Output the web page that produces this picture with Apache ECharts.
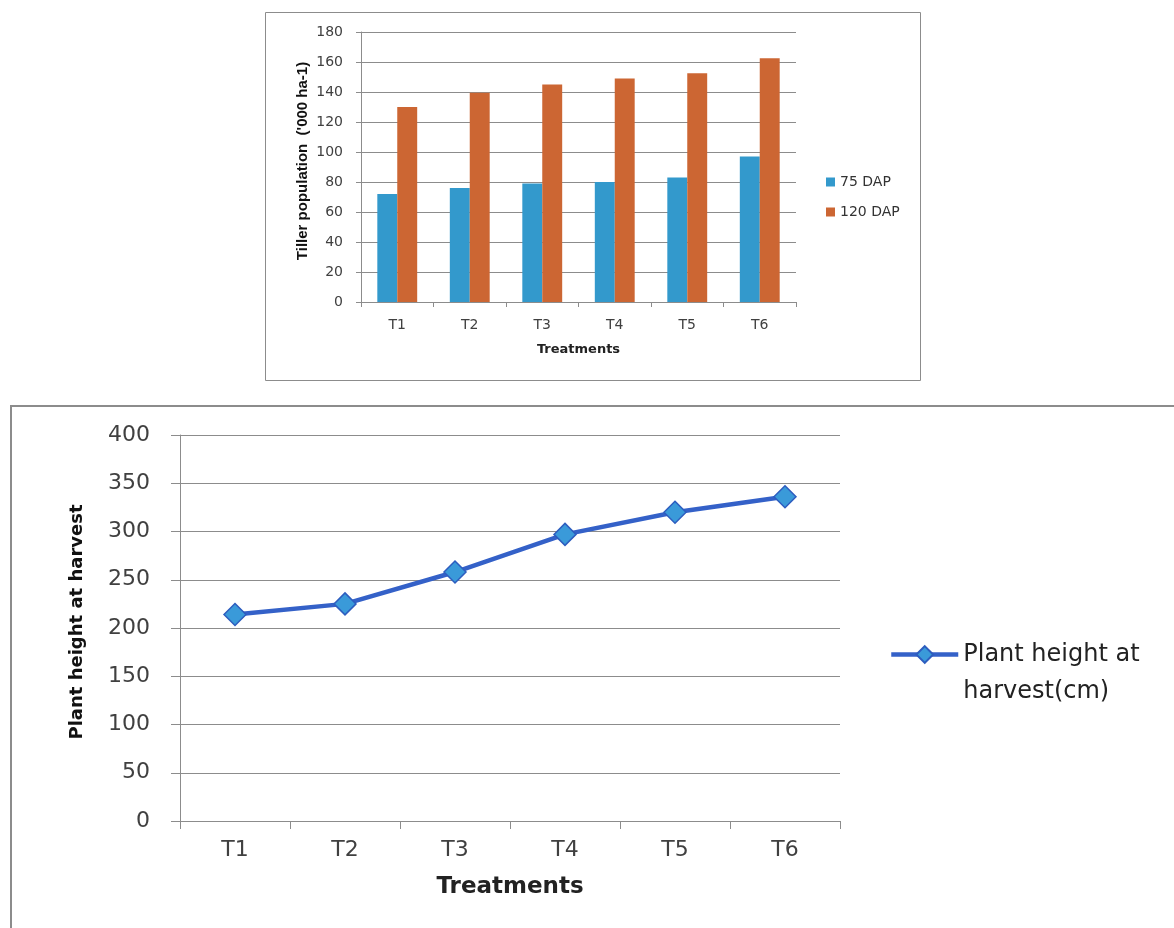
<!DOCTYPE html>
<html>
<head>
<meta charset="utf-8">
<script src="https://cdn.jsdelivr.net/npm/echarts@6/dist/echarts.min.js"></script>
<style>
  html, body { margin: 0; padding: 0; background: #ffffff; }
  #chart { width: 1174px; height: 928px; }
</style>
</head>
<body>
<div id="chart"></div>
<script>
// ---- data ----
const categories = ['T1', 'T2', 'T3', 'T4', 'T5', 'T6'];
const tiller75 = [72, 76, 79, 80, 83, 97];
const tiller120 = [130, 139.5, 145, 149, 152.5, 162.5];
const plantHeight = [214, 225, 258, 297, 320, 336];
const tillerAxis = { min: 0, max: 180, interval: 20 };
const heightAxis = { min: 0, max: 400, interval: 50 };
const seriesNames = ['75 DAP', '120 DAP', 'Plant height at harvest(cm)'];
const axisTitles = {
  tillerY: "Tiller population  ('000 ha-1)",
  heightY: 'Plant height at harvest',
  x: 'Treatments'
};

// ---- styles ----
const GRID_COLOR = '#8c8c8c';
const LABEL_COLOR = '#404040';

const chart = echarts.init(document.getElementById('chart'), null, { renderer: 'canvas' });

const option = {
  backgroundColor: '#ffffff',
  animation: false,
  graphic: [
    {
      type: 'rect',
      shape: { x: 265.5, y: 12.5, width: 655, height: 368 },
      style: { fill: 'none', stroke: '#8c8c8c', lineWidth: 1 },
      silent: true
    },
    {
      type: 'polyline',
      shape: { points: [[11, 940], [11, 406], [1180, 406]] },
      style: { fill: 'none', stroke: '#8c8c8c', lineWidth: 2 },
      silent: true
    }
  ],
  grid: [
    { left: 361, top: 32, width: 435, height: 270, containLabel: false },
    { left: 180, top: 435, width: 660, height: 386, containLabel: false }
  ],
  legend: [
    {
      orient: 'vertical',
      left: 826,
      top: 174,
      padding: 0,
      itemWidth: 9,
      itemHeight: 9,
      itemGap: 14,
      icon: 'rect',
      data: [seriesNames[0], seriesNames[1]],
      textStyle: { fontFamily: 'DejaVu Sans', fontSize: 14, color: '#333', lineHeight: 16 }
    },
    {
      orient: 'vertical',
      left: 889,
      top: 599,
      padding: 0,
      itemWidth: 67,
      itemHeight: 21,
      data: [seriesNames[2]],
      lineStyle: { width: 4.5, color: '#3461c8' },
      formatter: function (n) {
        const parts = n.split('at harvest');
        return '{pad| }\n{t|' + parts[0] + 'at}\n{t|harvest' + parts[1] + '}';
      },
      textStyle: {
        fontFamily: 'DejaVu Sans', fontSize: 24, color: '#222', lineHeight: 37,
        rich: {
          pad: { fontFamily: 'DejaVu Sans', fontSize: 24, lineHeight: 37 },
          t: { fontFamily: 'DejaVu Sans', fontSize: 24, lineHeight: 37, color: '#222' }
        }
      }
    }
  ],
  xAxis: [
    {
      gridIndex: 0,
      type: 'category',
      data: categories,
      axisLine: { show: true, lineStyle: { color: GRID_COLOR, width: 1 } },
      axisTick: { show: true, length: 5, lineStyle: { color: GRID_COLOR } },
      axisLabel: { margin: 16, fontFamily: 'DejaVu Sans', fontSize: 14, color: LABEL_COLOR },
      name: axisTitles.x,
      nameLocation: 'middle',
      nameGap: 41,
      nameTextStyle: { fontFamily: 'DejaVu Sans', fontWeight: 'bold', fontSize: 13, color: '#222' }
    },
    {
      gridIndex: 1,
      type: 'category',
      data: categories,
      axisLine: { show: true, lineStyle: { color: GRID_COLOR, width: 1 } },
      axisTick: { show: true, length: 8, lineStyle: { color: GRID_COLOR } },
      axisLabel: { margin: 18, fontFamily: 'DejaVu Sans', fontSize: 22, color: LABEL_COLOR },
      name: axisTitles.x,
      nameLocation: 'middle',
      nameGap: 55,
      nameTextStyle: { fontFamily: 'DejaVu Sans', fontWeight: 'bold', fontSize: 23, color: '#222' }
    }
  ],
  yAxis: [
    {
      gridIndex: 0,
      type: 'value',
      min: tillerAxis.min,
      max: tillerAxis.max,
      interval: tillerAxis.interval,
      axisLine: { show: true, lineStyle: { color: GRID_COLOR, width: 1 } },
      axisTick: { show: true, length: 5, lineStyle: { color: GRID_COLOR } },
      splitLine: { show: true, lineStyle: { color: GRID_COLOR, width: 1 } },
      axisLabel: { margin: 18, fontFamily: 'DejaVu Sans', fontSize: 14, color: LABEL_COLOR },
      name: axisTitles.tillerY,
      nameLocation: 'middle',
      nameGap: 51,
      nameTextStyle: {
        fontFamily: 'Liberation Sans', fontWeight: 'bold', fontSize: 15, color: '#111',
        padding: [0, 0, 0, 12]
      }
    },
    {
      gridIndex: 1,
      type: 'value',
      min: heightAxis.min,
      max: heightAxis.max,
      interval: heightAxis.interval,
      axisLine: { show: true, lineStyle: { color: GRID_COLOR, width: 1 } },
      axisTick: { show: true, length: 9, lineStyle: { color: GRID_COLOR } },
      splitLine: { show: true, lineStyle: { color: GRID_COLOR, width: 1.2 } },
      axisLabel: { margin: 30, fontFamily: 'DejaVu Sans', fontSize: 22, color: LABEL_COLOR },
      name: axisTitles.heightY,
      nameLocation: 'middle',
      nameGap: 94,
      nameTextStyle: {
        fontFamily: 'DejaVu Sans', fontWeight: 'bold', fontSize: 18, color: '#111',
        padding: [0, 0, 0, 12]
      }
    }
  ],
  series: [
    {
      name: seriesNames[0],
      type: 'bar',
      xAxisIndex: 0,
      yAxisIndex: 0,
      data: tiller75,
      barGap: '0%',
      barCategoryGap: '45%',
      itemStyle: { color: '#3399cc' }
    },
    {
      name: seriesNames[1],
      type: 'bar',
      xAxisIndex: 0,
      yAxisIndex: 0,
      data: tiller120,
      barGap: '0%',
      barCategoryGap: '45%',
      itemStyle: { color: '#cc6633' }
    },
    {
      name: seriesNames[2],
      type: 'line',
      xAxisIndex: 1,
      yAxisIndex: 1,
      data: plantHeight,
      symbol: 'diamond',
      symbolSize: [22, 22],
      lineStyle: { color: '#3461c8', width: 4.5 },
      itemStyle: { color: '#3a9ad9', borderColor: '#2d5dbf', borderWidth: 1.5 }
    }
  ]
};

chart.setOption(option);
</script>
</body>
</html>
